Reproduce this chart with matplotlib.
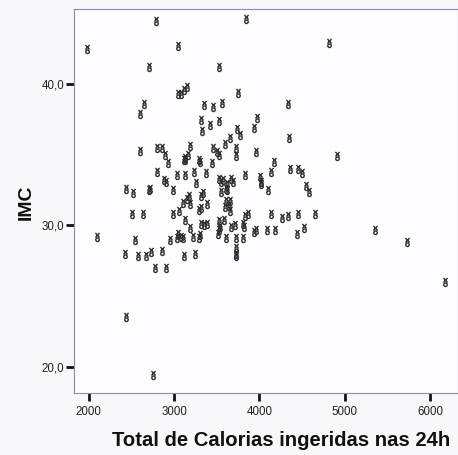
import numpy as np
import matplotlib
matplotlib.use('Agg')
from matplotlib import pyplot as plt
from matplotlib.path import Path

# calorias totais (kcal/24h) e IMC de cada paciente
calorias = [1980, 2790, 3840, 3040, 4810, 2710, 3530, 3050, 3080, 3120, 3150, 3750, 2600, 2650, 3350,
            3460, 3560, 4330, 3320, 3420, 3520, 3330, 3970, 3930, 3740, 3770, 4350, 3650, 3600,
            2600, 2800, 2860, 2890, 3190, 3160, 3460, 3500, 3520, 3730, 3730, 3960, 4910, 2930,
            3120, 3130, 3130, 3290, 3300, 3440, 4170,
            2800, 3030, 3130, 3230, 3370, 2880, 2910, 3260, 3530, 3550, 3570, 3670, 3690, 3620,
            3610, 3830, 4010, 4020, 4020, 4140, 4360, 4450, 4500, 4100, 4540, 4580,
            2440, 2520, 2710, 2720, 2990, 3170, 3340, 3550, 3620,
            3100, 3150, 3190, 3320, 3290, 3320, 3380, 2990, 3060, 3130, 3610, 3640, 3660, 3600,
            3650, 3590, 3530, 3540, 3530, 3510, 3320, 3350, 3380, 3670, 3710, 3180, 3040, 3080,
            3100, 3030, 2950, 3220, 3300, 3290, 3610, 3720,
            2730, 2860, 3120, 3250, 3720, 3720, 3720, 2770, 2900, 2510, 2640, 2540, 2420, 2580,
            2670, 2100,
            3830, 3870, 3810, 3820, 4140, 4260, 4340, 4450, 4650, 3930, 3960, 4090, 4180, 3810,
            4440, 4520, 5350, 5730, 6180, 2440, 2750]

imc = [42.5, 44.5, 44.6, 42.7, 42.9, 41.2, 41.2, 39.3, 39.3, 39.6, 39.8, 39.4, 37.9, 38.6, 38.5,
       38.4, 38.7, 38.6, 37.5, 37.1, 37.4, 36.7, 37.6, 36.9, 36.8, 36.4, 36.2, 36.2, 35.8,
       35.3, 35.5, 35.5, 35.0, 35.6, 35.0, 35.5, 35.2, 35.0, 35.5, 34.9, 35.2, 34.9, 34.4,
       34.6, 34.6, 34.8, 34.6, 34.5, 34.4, 34.5,
       33.8, 33.6, 33.6, 33.8, 33.7, 33.2, 33.1, 33.0, 33.3, 33.1, 33.2, 33.3, 33.1, 32.9,
       32.6, 33.6, 33.4, 33.1, 32.9, 33.8, 34.0, 34.0, 33.7, 32.5, 32.8, 32.4,
       32.6, 32.3, 32.5, 32.6, 32.5, 32.1, 32.3, 32.4, 32.5,
       31.6, 31.9, 31.5, 32.1, 31.1, 31.2, 31.5, 30.8, 31.0, 30.4, 31.7, 31.4, 31.7, 31.3,
       31.0, 30.4, 30.3, 29.9, 29.7, 29.4, 30.1, 30.0, 30.1, 29.9, 30.0, 29.8, 29.4, 29.2,
       29.1, 29.1, 29.0, 29.2, 29.3, 29.1, 29.1, 29.1,
       28.1, 28.2, 27.8, 28.0, 28.4, 28.0, 27.8, 27.0, 27.0, 30.8, 30.8, 29.0, 28.0, 27.8,
       27.8, 29.2,
       30.7, 30.8, 30.1, 29.9, 30.8, 30.5, 30.7, 30.8, 30.8, 29.5, 29.7, 29.7, 29.7, 29.1,
       29.4, 29.8, 29.7, 28.8, 26.0, 23.5, 19.4]

xticks = [2000, 3000, 4000, 5000, 6000]
yticks = [20, 30, 40]
ytick_labels = ['20,0', '30,0', '40,0']

plt.rcParams['font.family'] = ['Liberation Sans', 'DejaVu Sans']

# marcador estilo SPSS: um x com um pequeno anel embaixo
cruz = Path([(-0.6, 0.0), (0.6, 1.3), (-0.6, 1.3), (0.6, 0.0)],
            [Path.MOVETO, Path.LINETO, Path.MOVETO, Path.LINETO])
anel = Path.circle((0, -0.65), 0.5)
marcador = Path.make_compound_path(cruz, anel)

fig = plt.figure(figsize=(4.58, 4.55), dpi=100, facecolor='#f8f7fb')
ax = fig.add_axes([74 / 458, 1 - 392.5 / 455, 384 / 458, 384 / 455])
ax.set_facecolor('#fdfcfe')

ax.plot(calorias, imc, linestyle='none', marker=marcador, markersize=6.5,
        markerfacecolor='none', markeredgecolor='#2e2e2e', markeredgewidth=1.0)

ax.set_xlim(1826, 6327)
ax.set_ylim(18.17, 45.36)

for side in ['left', 'top', 'right', 'bottom']:
    ax.spines[side].set_color('#8c8ca4')
    ax.spines[side].set_linewidth(0.8)
    ax.spines[side].set_linestyle((0, (1, 0.6)))

ax.set_xticks(xticks)
ax.set_yticks(yticks)
ax.set_yticklabels(ytick_labels)
ax.tick_params(axis='both', direction='out', length=5.5, width=2, color='#111111',
               labelsize=8.3, labelcolor='#222222')
ax.tick_params(axis='x', pad=4)
ax.tick_params(axis='y', pad=1.5)

fig.text(281 / 458, 1 - 440 / 455, 'Total de Calorias ingeridas nas 24h', ha='center', va='center',
         fontsize=14.6, fontweight='bold', color='#111111')
fig.text(26 / 458, 1 - 202 / 455, 'IMC', ha='center', va='center', rotation=90,
         fontsize=14, fontweight='bold', color='#111111')

fig.savefig('out.png', dpi=100, facecolor=fig.get_facecolor())
